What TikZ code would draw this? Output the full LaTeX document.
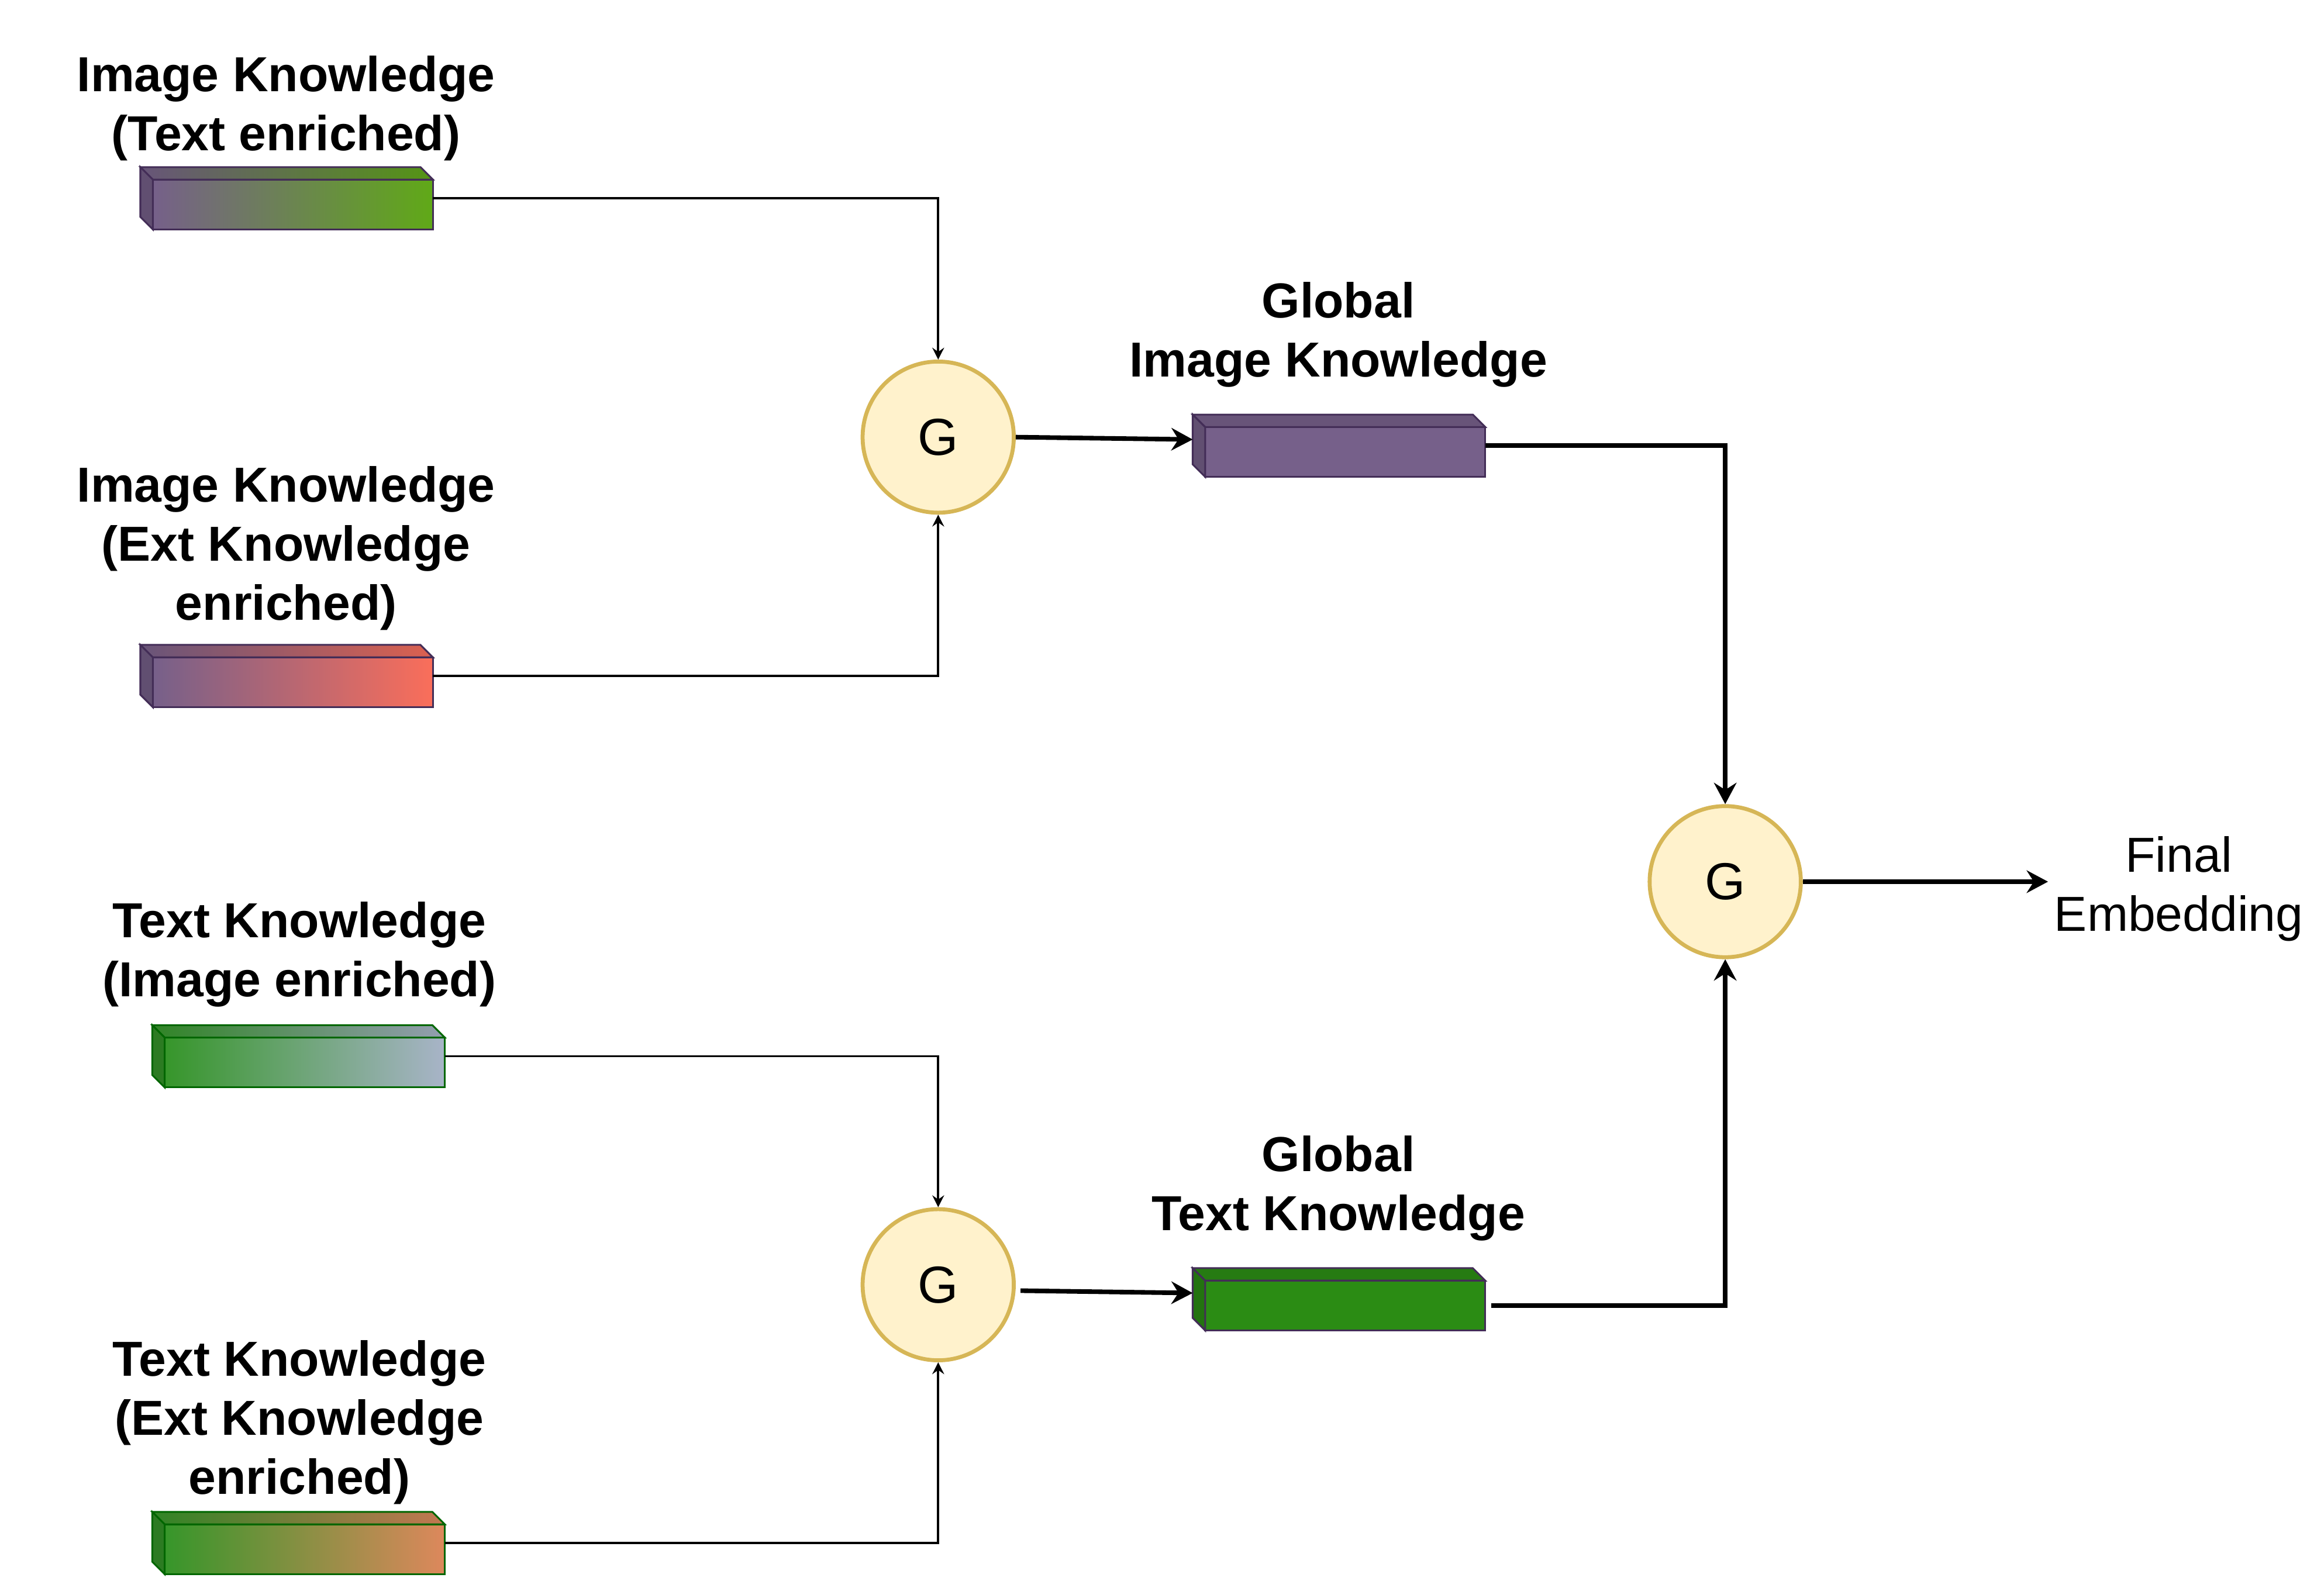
\documentclass[tikz,border=0pt]{standalone}
\usepackage{fontspec}
\setsansfont{Liberation Sans}
\usepackage{tikz}
\usetikzlibrary{arrows.meta,positioning,calc}
\definecolor{FigureInk}{HTML}{000000}
\definecolor{PurpleFill}{HTML}{76608A}
\definecolor{PurpleLine}{HTML}{432D57}
\definecolor{GreenFill}{HTML}{36962A}
\definecolor{GreenLine}{HTML}{006600}
\definecolor{LimeFill}{HTML}{60A917}
\definecolor{CoralFill}{HTML}{FA6E5A}
\definecolor{SlateFill}{HTML}{A8B4C8}
\definecolor{PeachFill}{HTML}{DD885C}
\definecolor{DeepGreen}{HTML}{2B8C14}
\definecolor{GateFill}{HTML}{FFF2CC}
\definecolor{GateLine}{HTML}{D6B656}
\newcommand\bardepth{0.21}
% top and left faces of a vector bar: #1 node, #2 left colour, #3 right colour, #4 line
\newcommand\barsides[4]{%
  \path[draw=#4,line width=0.85pt,left color=#2!88!black,right color=#3!88!black]
    (#1.north west) -- ++(-\bardepth,\bardepth) -- ($(#1.north east)+(-\bardepth,\bardepth)$)
    -- (#1.north east) -- cycle;
  \path[draw=#4,line width=0.85pt,fill=#2!82!black]
    (#1.north west) -- ++(-\bardepth,\bardepth) -- ($(#1.south west)+(-\bardepth,\bardepth)$)
    -- (#1.south west) -- cycle;
}
\tikzset{
  figure/.style={font=\sffamily\fontsize{23.6}{28.4}\selectfont,text=FigureInk},
  heading/.style={font=\sffamily\bfseries\fontsize{23.6}{28.4}\selectfont,align=center},
  vector/.style={draw=#1,line width=0.85pt,minimum width=4.725cm,minimum height=0.84cm,outer sep=0pt,inner sep=0pt},
  gate/.style={circle,draw=GateLine,fill=GateFill,line width=1.9pt,minimum size=2.55cm,inner sep=0pt,font=\sffamily\fontsize{25}{30}\selectfont},
  feed/.style={-{Stealth[length=2mm,width=2mm,inset=0.7mm]},line width=1.1pt,draw=FigureInk},
  merge/.style={-{Stealth[length=3.6mm,width=3.8mm,inset=1.2mm]},line width=2.2pt,draw=FigureInk},
}

\begin{document}
\begin{tikzpicture}[figure]
  \useasboundingbox (0,0) rectangle (39.2,26.9);

  \node[heading] (imgtexttitle) at (4.825,25.07) {Image Knowledge\\(Text enriched)};
  \node[heading] (imgexttitle) at (4.825,17.65) {Image Knowledge\\(Ext Knowledge\\enriched)};
  \node[heading] (txtimgtitle) at (5.05,10.8) {Text Knowledge\\(Image enriched)};
  \node[heading] (txtexttitle) at (5.05,2.9) {Text Knowledge\\(Ext Knowledge\\enriched)};
  \node[heading] (globimgtitle) at (22.575,21.25) {Global\\Image Knowledge};
  \node[heading] (globtxttitle) at (22.575,6.85) {Global\\Text Knowledge};
  \node[align=center,inner sep=0.1cm] (final) at (36.75,11.9) {Final\\Embedding};

  \node[vector=PurpleLine,left color=PurpleFill,right color=LimeFill] (imgtext) at (4.94,23.45) {};
  \barsides{imgtext}{PurpleFill}{LimeFill}{PurpleLine}
  \node[vector=PurpleLine,left color=PurpleFill,right color=CoralFill] (imgext) at (4.94,15.39) {};
  \barsides{imgext}{PurpleFill}{CoralFill}{PurpleLine}
  \node[vector=GreenLine,left color=GreenFill,right color=SlateFill] (txtimg) at (5.14,8.975) {};
  \barsides{txtimg}{GreenFill}{SlateFill}{GreenLine}
  \node[vector=GreenLine,left color=GreenFill,right color=PeachFill] (txtext) at (5.14,0.7625) {};
  \barsides{txtext}{GreenFill}{PeachFill}{GreenLine}
  \node[vector=PurpleLine,fill=PurpleFill] (globimg) at (22.69,19.275) {};
  \barsides{globimg}{PurpleFill}{PurpleFill}{PurpleLine}
  \node[vector=PurpleLine,fill=DeepGreen] (globtxt) at (22.69,4.875) {};
  \barsides{globtxt}{DeepGreen}{DeepGreen}{PurpleLine}

  \node[gate] (gimg) at (15.825,19.525) {G};
  \node[gate] (gtxt) at (15.825,5.225) {G};
  \node[gate] (gall) at (29.1,12.025) {G};

  \draw[feed] ($(imgtext.east)+(0,\bardepth/2)$) -| (gimg.north);
  \draw[feed] ($(imgext.east)+(0,\bardepth/2)$) -| (gimg.south);
  \draw[feed] ($(txtimg.east)+(0,\bardepth/2)$) -| (gtxt.north);
  \draw[feed] ($(txtext.east)+(0,\bardepth/2)$) -| (gtxt.south);
  \draw[merge] (gimg.east) -- ($(globimg.west)+(-\bardepth,\bardepth)$);
  \draw[merge] ($(gtxt.east)+(0.08,-0.1)$) -- ($(globtxt.west)+(-\bardepth,\bardepth)$);
  \draw[merge] ($(globimg.east)+(0,\bardepth/2)$) -| (gall.north);
  \draw[merge] ($(globtxt.east)+(0.1,0)$) -| (gall.south);
  \draw[merge] (gall.east) -- (gall.east -| final.west);
\end{tikzpicture}
\end{document}
